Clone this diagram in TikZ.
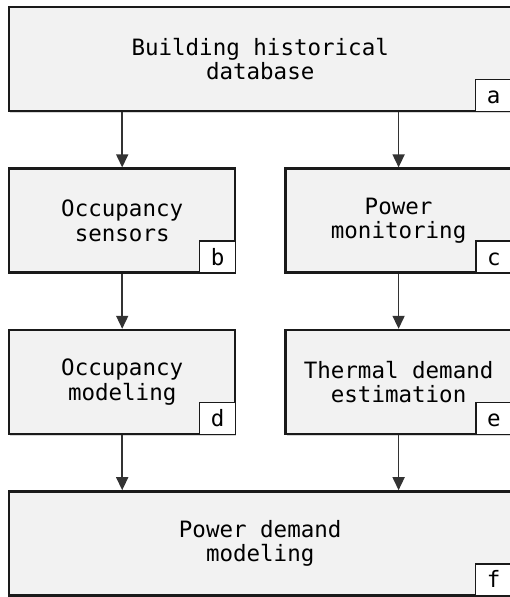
\documentclass[tikz,border=0pt]{standalone}
\usepackage{fontspec}
\setmonofont{DejaVu Sans Mono}
\usepackage{tikz}
\usetikzlibrary{arrows.meta, positioning, shadows}
\definecolor{grisCaja}{HTML}{F2F2F2}
\definecolor{grisBorde}{HTML}{1A1A1A}
\definecolor{grisFlecha}{HTML}{333333}

\begin{document}
\begin{tikzpicture}[
    x=1pt, y=1pt,
    font=\ttfamily\fontsize{22.5}{24.5}\selectfont,
    caja/.style={rectangle, draw=grisBorde, fill=grisCaja, line width=2.4pt, minimum width=226pt, minimum height=104pt, align=center, inner sep=0pt, drop shadow={shadow xshift=1pt, shadow yshift=-1.5pt, fill=black!40, opacity=0.4}},
    cajaancha/.style={caja, minimum width=502pt},
    etiqueta/.style={rectangle, draw=grisBorde, fill=white, line width=1.6pt, minimum width=36pt, minimum height=32pt, inner sep=0pt, text height=16pt, text depth=0pt, anchor=south east},
    flecha/.style={-{Triangle[length=13pt, width=12pt]}, line width=1.6pt, grisFlecha}
]
    \useasboundingbox (0,0) rectangle (509,-597);

    \node[cajaancha, anchor=north west] (a) at (8,-6) {Building historical\\database};
    \node[caja, below right=55pt and 0pt of a.south west] (b) {Occupancy\\sensors};
    \node[caja, right=48pt of b] (c) {Power\\monitoring};
    \node[caja, below=55pt of b] (d) {Occupancy\\modeling};
    \node[caja, below=55pt of c] (e) {Thermal demand\\estimation};
    \node[cajaancha, below right=55pt and 0pt of d.south west] (f) {Power demand\\modeling};

    \node[etiqueta] (la) at (a.south east) {a};
    \node[etiqueta] (lb) at (b.south east) {b};
    \node[etiqueta] (lc) at (c.south east) {c};
    \node[etiqueta] (ld) at (d.south east) {d};
    \node[etiqueta] (le) at (e.south east) {e};
    \node[etiqueta] (lf) at (f.south east) {f};

    \draw[flecha] (a.south -| b) -- (b);
    \draw[flecha] (a.south -| c) -- (c);
    \draw[flecha] (b) -- (d);
    \draw[flecha] (c) -- (e);
    \draw[flecha] (d) -- (d |- f.north);
    \draw[flecha] (e) -- (e |- f.north);
\end{tikzpicture}
\end{document}
